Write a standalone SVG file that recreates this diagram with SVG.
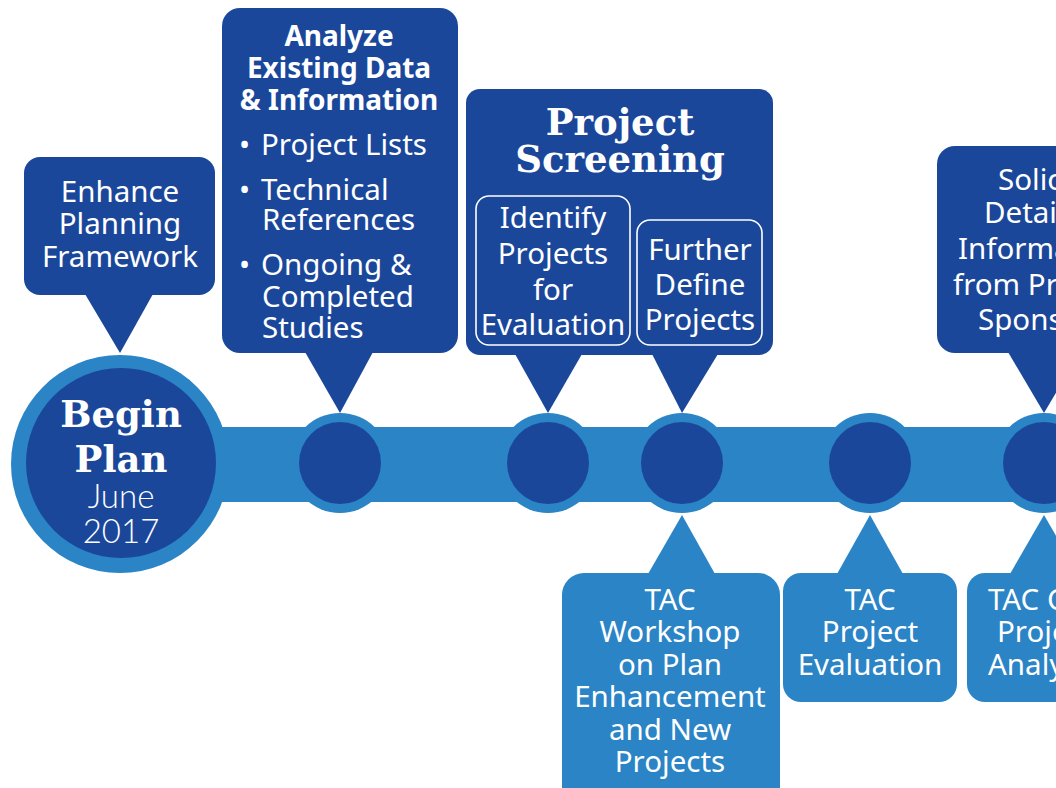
<svg xmlns="http://www.w3.org/2000/svg" width="1056" height="788" viewBox="0 0 1056 788">
<style>
.dk{fill:#1b479b}
.lt{fill:#2a84c6}
.t{font-family:"Noto Sans","Open Sans",sans-serif;font-size:29.5px;fill:#fff;text-anchor:middle}
.ts{font-family:"Noto Sans","Open Sans",sans-serif;font-size:29.5px;fill:#fff}
.tb{font-family:"Noto Sans","Open Sans",sans-serif;font-size:28px;font-weight:bold;fill:#fff;text-anchor:middle}
.slab{font-family:"DejaVu Serif",serif;font-weight:bold;fill:#fff;text-anchor:middle}
.thin{font-family:Lato,"Noto Sans",sans-serif;font-weight:300;font-size:33px;fill:#fff;text-anchor:middle}
.inner{fill:none;stroke:#fff;stroke-width:1.6}
</style>
<rect width="1056" height="788" fill="#fff"/>
<g id="connectors">
<rect class="lt" x="200" y="427" width="870" height="75"/>
</g>
<g id="begin">
<circle class="lt" cx="120" cy="464" r="109"/>
<circle class="dk" cx="121" cy="463" r="95"/>
<text class="slab" font-size="37"><tspan x="121" y="427">Begin</tspan><tspan x="121" y="472">Plan</tspan></text>
<text class="thin"><tspan x="121" y="508">June</tspan><tspan x="121" y="543">2017</tspan></text>
</g>
<g id="m1"><circle class="lt" cx="340" cy="463" r="50"/><circle class="dk" cx="340" cy="463" r="41"/></g>
<g id="m2"><circle class="lt" cx="548" cy="463" r="50"/><circle class="dk" cx="548" cy="463" r="41"/></g>
<g id="m3"><circle class="lt" cx="682" cy="463" r="50"/><circle class="dk" cx="682" cy="463" r="41"/></g>
<g id="m4"><circle class="lt" cx="870" cy="463" r="50"/><circle class="dk" cx="870" cy="463" r="41"/></g>
<g id="m5"><circle class="lt" cx="1044" cy="463" r="50"/><circle class="dk" cx="1044" cy="463" r="41"/></g>

<g id="enhance">
<rect class="dk" x="24" y="157" width="191" height="138" rx="16"/>
<polygon class="dk" points="85,294 153,294 120,353"/>
<text class="t"><tspan x="120" y="202">Enhance</tspan><tspan x="120" y="234">Planning</tspan><tspan x="120" y="267">Framework</tspan></text>
</g>

<g id="analyze">
<rect class="dk" x="222" y="8" width="236" height="345" rx="18"/>
<polygon class="dk" points="305,352 373,352 340,413"/>
<text class="tb"><tspan x="339" y="46">Analyze</tspan><tspan x="339" y="78">Existing Data</tspan><tspan x="339" y="110">&amp; Information</tspan></text>
<text class="ts"><tspan x="239" y="155">•</tspan><tspan x="261" y="155">Project Lists</tspan><tspan x="239" y="200">•</tspan><tspan x="261" y="200">Technical</tspan><tspan x="262" y="230">References</tspan><tspan x="239" y="275">•</tspan><tspan x="261" y="275">Ongoing &amp;</tspan><tspan x="262" y="307">Completed</tspan><tspan x="262" y="338">Studies</tspan></text>
</g>

<g id="screening">
<rect class="dk" x="466" y="89" width="307" height="266" rx="14"/>
<polygon class="dk" points="515,354 582,354 548,413"/>
<polygon class="dk" points="652,354 718,354 682,413"/>
<text class="slab" font-size="37"><tspan x="620" y="135">Project</tspan><tspan x="620" y="172">Screening</tspan></text>
<rect class="inner" x="476" y="196" width="154" height="149" rx="13"/>
<rect class="inner" x="637" y="220" width="125" height="125" rx="13"/>
<text class="t"><tspan x="553" y="228">Identify</tspan><tspan x="553" y="264">Projects</tspan><tspan x="553" y="300">for</tspan><tspan x="553" y="335">Evaluation</tspan></text>
<text class="t"><tspan x="700" y="260">Further</tspan><tspan x="700" y="295">Define</tspan><tspan x="700" y="330">Projects</tspan></text>
</g>

<g id="solicit">
<rect class="dk" x="937" y="146" width="220" height="207" rx="18"/>
<polygon class="dk" points="1008,352 1080,352 1044,413"/>
<text class="ts"><tspan x="998" y="190">Solic</tspan><tspan x="984" y="223">Detai</tspan><tspan x="958" y="259">Informa</tspan><tspan x="953" y="295">from Pr</tspan><tspan x="978" y="330">Spons</tspan></text>
</g>

<g id="workshop">
<polygon class="lt" points="648,574 715,574 682,515"/>
<rect class="lt" x="562" y="573" width="218" height="240" rx="22"/>
<text class="t"><tspan x="670" y="610">TAC</tspan><tspan x="670" y="642">Workshop</tspan><tspan x="670" y="675">on Plan</tspan><tspan x="670" y="707">Enhancement</tspan><tspan x="670" y="740">and New</tspan><tspan x="670" y="772">Projects</tspan></text>
</g>

<g id="evaluation">
<polygon class="lt" points="837,574 903,574 870,515"/>
<rect class="lt" x="783" y="573" width="174" height="129" rx="18"/>
<text class="t"><tspan x="870" y="610">TAC</tspan><tspan x="870" y="642">Project</tspan><tspan x="870" y="675">Evaluation</tspan></text>
</g>

<g id="analysis">
<polygon class="lt" points="1010,574 1078,574 1044,515"/>
<rect class="lt" x="967" y="573" width="200" height="129" rx="18"/>
<text class="ts"><tspan x="988" y="610">TAC C</tspan><tspan x="997" y="642">Proje</tspan><tspan x="988" y="675">Analy</tspan></text>
</g>
</svg>
